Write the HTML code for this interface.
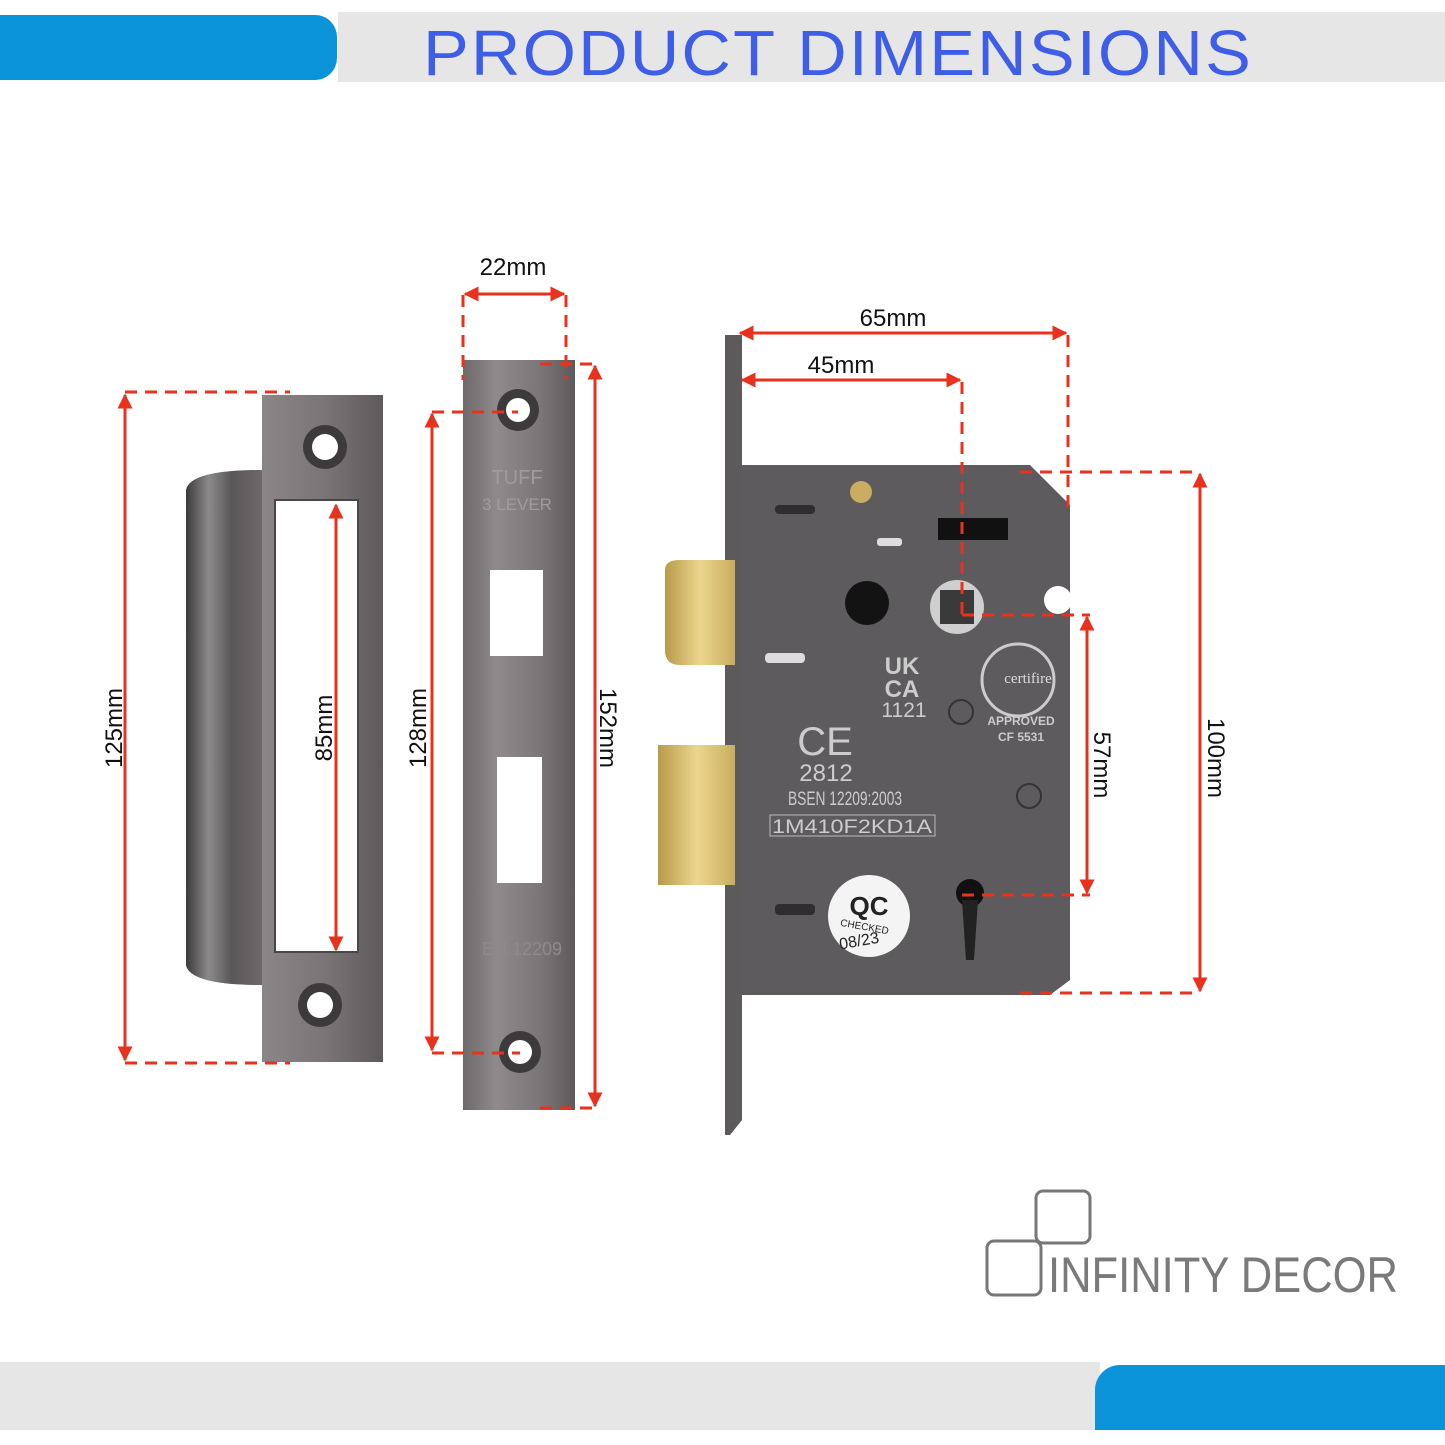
<!DOCTYPE html>
<html><head><meta charset="utf-8"><style>
html,body{margin:0;padding:0;background:#fff;width:1445px;height:1445px;overflow:hidden}
svg{display:block}
</style></head><body>
<svg width="1445" height="1445" viewBox="0 0 1445 1445" xmlns="http://www.w3.org/2000/svg" font-family="Liberation Sans, sans-serif">
<defs>
<linearGradient id="steel" x1="0" y1="0" x2="1" y2="0">
<stop offset="0" stop-color="#6e6a6c"/><stop offset="0.3" stop-color="#8f8a8c"/><stop offset="0.7" stop-color="#7a7577"/><stop offset="1" stop-color="#5e5a5c"/>
</linearGradient>
<linearGradient id="lip" x1="0" y1="0" x2="1" y2="0">
<stop offset="0" stop-color="#3c3a3b"/><stop offset="0.3" stop-color="#8d8a8b"/><stop offset="0.6" stop-color="#5a5758"/><stop offset="1" stop-color="#6d696b"/>
</linearGradient>
<linearGradient id="brass" x1="0" y1="0" x2="1" y2="0">
<stop offset="0" stop-color="#b89a48"/><stop offset="0.5" stop-color="#ecd58e"/><stop offset="1" stop-color="#c9ad60"/>
</linearGradient>
<marker id="ah" viewBox="0 0 10 10" refX="9" refY="5" markerWidth="5" markerHeight="5" orient="auto-start-reverse"><path d="M0,0 L10,5 L0,10 z" fill="#e8321e"/></marker>
</defs>

<!-- header -->
<rect x="338" y="12" width="1107" height="70" fill="#e6e6e6"/>
<path d="M0,15 H315 A22,22 0 0 1 337,37 V58 A22,22 0 0 1 315,80 H0 Z" fill="#0a93d8"/>
<text x="838" y="75" text-anchor="middle" font-family="Liberation Sans, sans-serif" font-size="64" fill="#3f5ee8" letter-spacing="2" textLength="830" lengthAdjust="spacingAndGlyphs">PRODUCT  DIMENSIONS</text>

<!-- footer -->
<rect x="0" y="1362" width="1100" height="68" fill="#e6e6e6"/>
<path d="M1445,1365 H1120 A25,25 0 0 0 1095,1390 V1430 H1445 Z" fill="#0a93d8"/>

<!-- strike plate -->
<path d="M262,395 H383 V1062 H262 V985 Q190,985 186,965 V490 Q190,470 262,470 Z" fill="url(#steel)"/>
<path d="M262,470 Q190,470 186,490 V965 Q190,985 262,985 Z" fill="url(#lip)"/>
<rect x="275" y="500" width="83" height="452" fill="#fff" stroke="#4a4748" stroke-width="2"/>
<circle cx="325" cy="447" r="22" fill="#3d3a3b"/><circle cx="325" cy="447" r="13" fill="#fff"/>
<circle cx="320" cy="1005" r="22" fill="#3d3a3b"/><circle cx="320" cy="1005" r="13" fill="#fff"/>

<!-- forend plate -->
<rect x="463" y="360" width="112" height="750" fill="url(#steel)"/>
<circle cx="518" cy="410" r="21" fill="#3d3a3b"/><circle cx="518" cy="410" r="12" fill="#fff"/>
<circle cx="520" cy="1052" r="21" fill="#3d3a3b"/><circle cx="520" cy="1052" r="12" fill="#fff"/>
<rect x="490" y="570" width="53" height="86" fill="#fff"/>
<rect x="497" y="757" width="45" height="126" fill="#fff"/>
<text x="517" y="484" text-anchor="middle" font-size="20" fill="#a09c9d">TUFF</text>
<text x="517" y="510" text-anchor="middle" font-size="17" fill="#a09c9d">3 LEVER</text>
<text x="522" y="955" text-anchor="middle" font-size="18" fill="#8f8b8c">EN 12209</text>

<!-- lock -->
<path d="M725,335 H742 V1120 L730,1135 H725 Z" fill="#5c5a5b"/>
<path d="M665,570 Q665,560 680,560 H735 V665 H680 Q665,665 665,650 Z" fill="url(#brass)"/>
<rect x="658" y="745" width="77" height="140" fill="url(#brass)"/>
<path d="M742,465 H1030 L1070,505 V980 L1050,995 H742 Z" fill="#5d5b5d"/>
<circle cx="861" cy="492" r="11" fill="#c9ad60"/>
<rect x="775" y="505" width="40" height="9" rx="4" fill="#2f2d2e"/>
<rect x="877" y="538" width="25" height="8" rx="3" fill="#ddd"/>
<rect x="938" y="518" width="70" height="22" fill="#111"/>
<circle cx="867" cy="603" r="22" fill="#141314"/>
<circle cx="957" cy="607" r="27" fill="#cfcfcf"/><rect x="940" y="590" width="34" height="34" fill="#3a3a3a"/>
<circle cx="1058" cy="600" r="14" fill="#fff"/>
<rect x="765" y="653" width="40" height="10" rx="4" fill="#ddd"/>
<text x="902" y="674" text-anchor="middle" font-size="24" font-weight="bold" fill="#ccc">UK</text>
<text x="902" y="697" text-anchor="middle" font-size="24" font-weight="bold" fill="#ccc">CA</text>
<text x="904" y="717" text-anchor="middle" font-size="21" fill="#ccc">1121</text>
<circle cx="1018" cy="680" r="36" fill="none" stroke="#ccc" stroke-width="3"/>
<text x="1028" y="683" text-anchor="middle" font-family="Liberation Serif, serif" font-size="15" fill="#ddd">certifire</text>
<circle cx="961" cy="712" r="12" fill="none" stroke="#333" stroke-width="2"/>
<text x="1021" y="725" text-anchor="middle" font-size="12" font-weight="bold" fill="#ccc">APPROVED</text>
<text x="1021" y="741" text-anchor="middle" font-size="12" font-weight="bold" fill="#ccc">CF  5531</text>
<text x="825" y="755" text-anchor="middle" font-size="40" fill="#ccc">CE</text>
<text x="826" y="781" text-anchor="middle" font-size="24" fill="#ccc">2812</text>
<text x="845" y="805" text-anchor="middle" font-size="19" fill="#ccc" textLength="114" lengthAdjust="spacingAndGlyphs">BSEN 12209:2003</text>
<rect x="770" y="815" width="165" height="21" fill="none" stroke="#bbb"/>
<text x="852" y="833" text-anchor="middle" font-size="19" fill="#ccc" textLength="160" lengthAdjust="spacingAndGlyphs">1M410F2KD1A</text>
<circle cx="1029" cy="796" r="12" fill="none" stroke="#333" stroke-width="2"/>
<rect x="775" y="904" width="40" height="11" rx="4" fill="#2f2d2e"/>
<circle cx="869" cy="916" r="41" fill="#f4f4f4"/>
<text x="869" y="915" text-anchor="middle" font-size="26" font-weight="bold" fill="#222">QC</text>
<text x="864" y="930" text-anchor="middle" font-size="10" fill="#222" transform="rotate(10 864 930)">CHECKED</text>
<text x="860" y="946" text-anchor="middle" font-size="16" fill="#222" transform="rotate(-10 860 946)">08/23</text>
<circle cx="970" cy="893" r="14" fill="#111"/><path d="M962,900 H978 L974,960 H966 Z" fill="#222"/>

<!-- dimension lines -->
<g stroke="#e8321e" stroke-width="3" fill="none">
<g stroke-dasharray="12,8">
<line x1="125" y1="392" x2="290" y2="392"/><line x1="125" y1="1063" x2="290" y2="1063"/>
<line x1="432" y1="412" x2="518" y2="412"/><line x1="432" y1="1053" x2="520" y2="1053"/>
<line x1="463" y1="295" x2="463" y2="380"/><line x1="566" y1="295" x2="566" y2="380"/>
<line x1="540" y1="364" x2="598" y2="364"/><line x1="540" y1="1108" x2="598" y2="1108"/>
<line x1="962" y1="382" x2="962" y2="615"/><line x1="1068" y1="335" x2="1068" y2="515"/>
<line x1="962" y1="615" x2="1090" y2="615"/><line x1="962" y1="895" x2="1090" y2="895"/>
<line x1="1020" y1="472" x2="1200" y2="472"/><line x1="1020" y1="993" x2="1200" y2="993"/>
</g>
<line x1="125" y1="395" x2="125" y2="1060" marker-start="url(#ah)" marker-end="url(#ah)"/>
<line x1="336" y1="505" x2="336" y2="950" marker-start="url(#ah)" marker-end="url(#ah)"/>
<line x1="432" y1="414" x2="432" y2="1050" marker-start="url(#ah)" marker-end="url(#ah)"/>
<line x1="595" y1="366" x2="595" y2="1106" marker-start="url(#ah)" marker-end="url(#ah)"/>
<line x1="465" y1="294" x2="564" y2="294" marker-start="url(#ah)" marker-end="url(#ah)"/>
<line x1="740" y1="333" x2="1066" y2="333" marker-start="url(#ah)" marker-end="url(#ah)"/>
<line x1="742" y1="380" x2="960" y2="380" marker-start="url(#ah)" marker-end="url(#ah)"/>
<line x1="1087" y1="617" x2="1087" y2="893" marker-start="url(#ah)" marker-end="url(#ah)"/>
<line x1="1200" y1="474" x2="1200" y2="991" marker-start="url(#ah)" marker-end="url(#ah)"/>
</g>
<g font-size="24" fill="#111">
<text x="513" y="275" text-anchor="middle">22mm</text>
<text x="893" y="326" text-anchor="middle">65mm</text>
<text x="841" y="373" text-anchor="middle">45mm</text>
<text transform="translate(122,728) rotate(-90)" text-anchor="middle">125mm</text>
<text transform="translate(332,728) rotate(-90)" text-anchor="middle">85mm</text>
<text transform="translate(426,728) rotate(-90)" text-anchor="middle">128mm</text>
<text transform="translate(600,728) rotate(90)" text-anchor="middle">152mm</text>
<text transform="translate(1094,765) rotate(90)" text-anchor="middle">57mm</text>
<text transform="translate(1208,758) rotate(90)" text-anchor="middle">100mm</text>
</g>

<!-- logo -->
<g fill="none" stroke="#777" stroke-width="3">
<rect x="1036" y="1191" width="54" height="52" rx="7"/>
<rect x="987" y="1241" width="54" height="54" rx="7"/>
</g>
<text x="1048" y="1292" font-size="50" fill="#7a7a7a" textLength="350" lengthAdjust="spacingAndGlyphs" font-weight="normal">INFINITY DECOR</text>
</svg>
</body></html>
